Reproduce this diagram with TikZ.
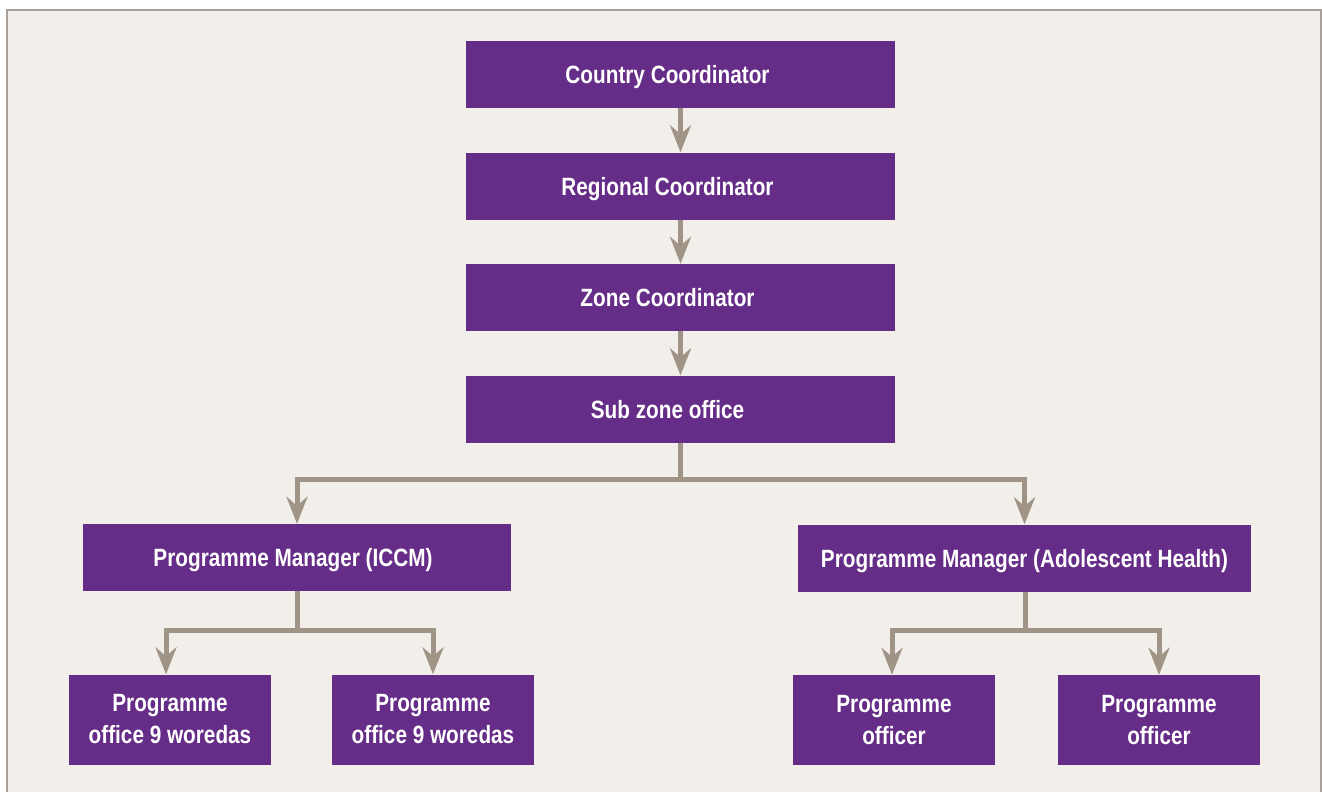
\documentclass[tikz,border=0pt]{standalone}
\usepackage{fontspec}
\setmainfont{Liberation Sans}[FakeStretch=0.83]
\usetikzlibrary{arrows.meta}
\definecolor{bgc}{HTML}{F2EEEA}
\definecolor{framec}{HTML}{A9A199}
\definecolor{boxc}{HTML}{652D87}
\definecolor{linec}{HTML}{A09487}
\tikzset{
  orgbox/.style={fill=boxc, draw=none, inner sep=0pt, text=white, align=center,
    font=\bfseries\fontsize{25}{32}\selectfont},
  oneline/.style={orgbox, minimum height=67pt, text depth=0pt},
  wide/.style={oneline, minimum width=429pt},
  small/.style={orgbox, minimum width=202pt, minimum height=90pt},
  conn/.style={draw=linec, line width=5pt},
  arr/.style={conn, -{Stealth[length=27pt, width=21pt, inset=9pt]}}
}
\begin{document}
\begin{tikzpicture}[x=1pt, y=-1pt]
\useasboundingbox (0,0) rectangle (1322,792);
\fill[white] (0,0) rectangle (1322,792);
\fill[bgc] (7,10) rectangle (1321,792);
\draw[framec, line width=2pt] (7,792) -- (7,10) -- (1321,10) -- (1321,792);

\node[wide] (cc) at (680.5,74.5) {Country Coordinator\hspace*{26pt}};
\node[wide] (rc) at (680.5,186) {Regional Coordinator\hspace*{26pt}};
\node[wide] (zc) at (680.5,297.5) {Zone Coordinator\hspace*{26pt}};
\node[wide] (sz) at (680.5,409) {Sub zone office\hspace*{26pt}};

\node[oneline, minimum width=428pt] (pml) at (297,557.5) {Programme Manager (ICCM)\hspace*{8pt}};
\node[oneline, minimum width=453pt] (pmr) at (1024.5,558) {Programme Manager (Adolescent Health)};

\node[small] (b1) at (170,719.5) {Programme\\office 9 woredas};
\node[small] (b2) at (433,719.5) {Programme\\office 9 woredas};
\node[small] (b3) at (894,720) {Programme\\officer};
\node[small] (b4) at (1159,720) {Programme\\officer};

\draw[arr] (cc.south) -- (rc.north);
\draw[arr] (rc.south) -- (zc.north);
\draw[arr] (zc.south) -- (sz.north);

\coordinate (j1) at (680.5,479);
\draw[conn] (sz.south) -- (j1);
\draw[arr] (j1) -| (pml.north);
\draw[arr] (j1) -| (pmr.north);

\coordinate (j2) at (297,630);
\draw[conn] (pml.south) -- (j2);
\draw[arr] (j2) -| ([xshift=-4pt]b1.north);
\draw[arr] (j2) -| (b2.north);

\coordinate (j3) at (1025,630.5);
\draw[conn] (pmr.south -| j3) -- (j3);
\draw[arr] (j3) -| ([xshift=-2pt]b3.north);
\draw[arr] (j3) -| (b4.north);
\end{tikzpicture}
\end{document}
